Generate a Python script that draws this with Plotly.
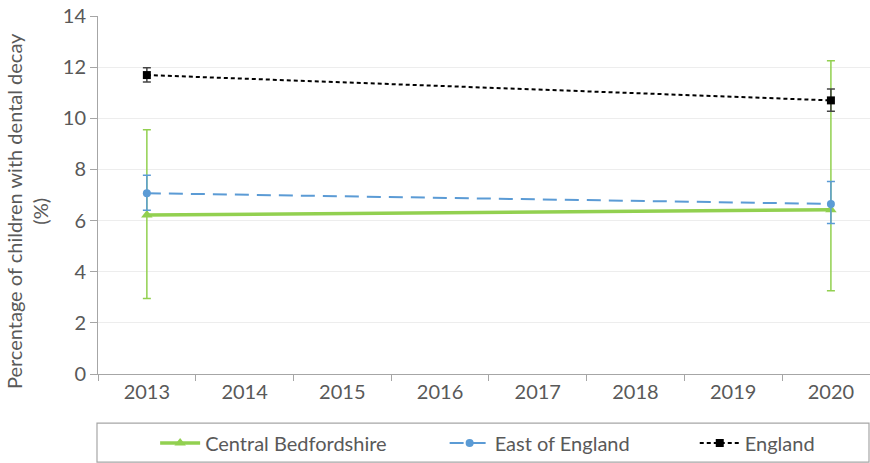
import plotly.graph_objects as go

years = [2013, 2020]
all_years = list(range(2013, 2021))

cb_vals = [6.22, 6.42]
cb_upper = [9.55, 12.25]
cb_lower = [2.95, 3.26]

ee_vals = [7.07, 6.65]
ee_upper = [7.77, 7.53]
ee_lower = [6.40, 5.89]

en_vals = [11.69, 10.70]
en_upper = [11.98, 11.15]
en_lower = [11.42, 10.28]

y_ticks = [0, 2, 4, 6, 8, 10, 12, 14]

FONT = "Lato"
GREY = "#595959"


def err(vals, up, lo, color, width=1.5):
    return dict(type="data", symmetric=False,
                array=[u - v for u, v in zip(up, vals)],
                arrayminus=[v - l for v, l in zip(vals, lo)],
                color=color, thickness=width, width=4)


fig = go.Figure()
fig.add_trace(go.Scatter(
    x=years, y=cb_vals, name="Central Bedfordshire", mode="lines+markers",
    line=dict(color="#92D050", width=3.5),
    marker=dict(symbol="triangle-up", size=10, color="#92D050"),
    error_y=err(cb_vals, cb_upper, cb_lower, "#92D050"), legend="legend"))
fig.add_trace(go.Scatter(
    x=years, y=ee_vals, name="East of England", mode="lines+markers",
    line=dict(color="#5B9BD5", width=2, dash="14px,8px"),
    marker=dict(symbol="circle", size=8, color="#5B9BD5"),
    error_y=err(ee_vals, ee_upper, ee_lower, "#5B9BD5"), legend="legend2"))
fig.add_trace(go.Scatter(
    x=years, y=en_vals, name="England", mode="lines+markers",
    line=dict(color="#000000", width=2, dash="4px,3px"),
    marker=dict(symbol="square", size=8, color="#000000"),
    error_y=err(en_vals, en_upper, en_lower, "#444444"), legend="legend3"))

leg_common = dict(orientation="h", y=-0.193, yanchor="middle",
                  font=dict(size=20, color=GREY), bgcolor="rgba(0,0,0,0)", itemwidth=40)

fig.update_layout(
    width=870, height=463,
    margin=dict(l=98, r=0, t=16, b=89),
    paper_bgcolor="white", plot_bgcolor="white",
    font=dict(family=FONT, color=GREY, size=16),
    showlegend=True,
    legend=dict(x=0.074, xanchor="left", **leg_common),
    legend2=dict(x=0.449, xanchor="left", **leg_common),
    legend3=dict(x=0.773, xanchor="left", **leg_common),
    xaxis=dict(range=[2012.5, 2020.4], tickvals=all_years, ticktext=[str(y) for y in all_years],
               ticks="", showgrid=False, zeroline=False,
               showline=True, linecolor="#A6A6A6", linewidth=1,
               tickfont=dict(size=20, color=GREY),
               minor=dict(ticks="outside", ticklen=6, tickcolor="#A6A6A6",
                          tick0=2012.5, dtick=1, showgrid=False)),
    yaxis=dict(range=[0, 14], tickvals=y_ticks, showgrid=True, gridcolor="#EDEDED",
               zeroline=False, showline=True, linecolor="#A6A6A6", linewidth=1,
               ticks="outside", ticklen=7, tickcolor="#A6A6A6",
               tickfont=dict(size=20, color=GREY)),
    shapes=[dict(type="rect", xref="paper", yref="paper",
                 x0=-0.0013, x1=0.9987, y0=-0.137, y1=-0.246,
                 line=dict(color="#A6A6A6", width=1.2), fillcolor="rgba(0,0,0,0)")],
    annotations=[dict(text="Percentage of children with dental decay<br>(%)",
                      xref="paper", yref="paper", x=-0.092, y=0.455,
                      xanchor="center", yanchor="middle", textangle=-90,
                      showarrow=False, font=dict(size=20, color=GREY))],
)

fig.write_html("out.html")
